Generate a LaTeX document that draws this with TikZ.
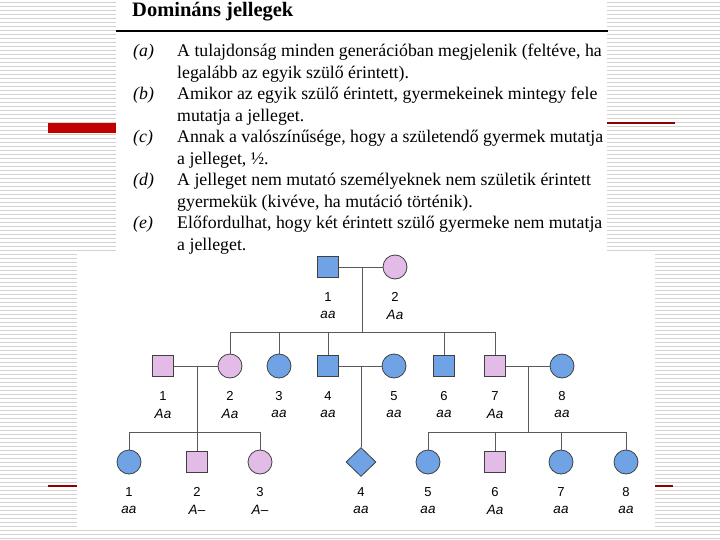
\documentclass[tikz,border=0pt]{standalone}
\usepackage{fontspec}
\setmainfont{Liberation Serif}
\newfontfamily\pedfont{Liberation Sans}
\usetikzlibrary{shapes.geometric}

\definecolor{affpink}{HTML}{E2BCE6}
\definecolor{unblue}{HTML}{6FA3E6}
\definecolor{slidered}{HTML}{C00000}
\definecolor{stripe}{HTML}{D2D2D2}

\tikzset{
  male/.style={draw=black!75,line width=.8pt,minimum size=21pt,inner sep=0pt},
  female/.style={circle,draw=black!75,line width=.8pt,minimum size=24pt,inner sep=0pt},
  sexunknown/.style={diamond,draw=black!75,line width=.8pt,minimum width=30pt,minimum height=29pt,inner sep=0pt},
  aff/.style={fill=affpink},
  unaff/.style={fill=unblue},
  link/.style={draw=black!65,line width=1pt},
  pnum/.style={font=\pedfont\fontsize{13}{13}\selectfont,inner sep=0pt},
  pgeno/.style={font=\pedfont\itshape\fontsize{13.5}{13.5}\selectfont,inner sep=0pt},
  itemline/.style={anchor=base west,inner sep=0pt,font=\fontsize{17.8}{18}\selectfont},
  itemlabel/.style={itemline,font=\itshape\fontsize{17.8}{18}\selectfont},
}

% name, style, x, y, number, genotype
\newcommand\person[6]{%
  \node[#2] (#1) at (#3,#4) {};
  \node[pnum] (#1n) at (#3,#4+30) {#5};
  \node[pgeno] (#1g) at (#3,#4+48) {#6};
}

\begin{document}
\begin{tikzpicture}[x=1pt,y=-1pt]
\useasboundingbox (0,0) rectangle (720,540);
% slide background
\foreach \k in {0,...,134}
  \draw[stripe,line width=.8pt] (0,4*\k+2) -- (720,4*\k+2);
\fill[slidered] (48,123) rectangle (116,133);
\draw[slidered!75!black,line width=1.2pt] (607,123) -- (675,123);
\draw[slidered!75!black,line width=1.2pt] (48,486) -- (77,486);
\draw[slidered!75!black,line width=1.2pt] (655,486) -- (673,486);
\fill[white] (116,0) rectangle (607,251);
\fill[white] (77,253) rectangle (655,530);

% text part
\node[anchor=base west,inner sep=0pt,font=\bfseries\fontsize{20.5}{20.5}\selectfont] (head) at (132,17) {Domináns jellegek};
\draw[line width=2pt] (116,31) -- (608,31);

\node[itemlabel] (la) at (133,57) {(a)};
\node[itemline] (ta1) at (177,57) {A tulajdonság minden generációban megjelenik (feltéve, ha};
\node[itemline] (ta2) at (177,78.5) {legalább az egyik szülő érintett).};
\node[itemlabel] (lb) at (133,100) {(b)};
\node[itemline] (tb1) at (177,100) {Amikor az egyik szülő érintett, gyermekeinek mintegy fele};
\node[itemline] (tb2) at (177,121.5) {mutatja a jelleget.};
\node[itemlabel] (lc) at (133,143) {(c)};
\node[itemline] (tc1) at (177,143) {Annak a valószínűsége, hogy a születendő gyermek mutatja};
\node[itemline] (tc2) at (177,164.5) {a jelleget, ½.};
\node[itemlabel] (ld) at (133,186) {(d)};
\node[itemline] (td1) at (177,186) {A jelleget nem mutató személyeknek nem születik érintett};
\node[itemline] (td2) at (177,207.5) {gyermekük (kivéve, ha mutáció történik).};
\node[itemlabel] (le) at (133,229) {(e)};
\node[itemline] (te1) at (177,229) {Előfordulhat, hogy két érintett szülő gyermeke nem mutatja};
\node[itemline] (te2) at (177,250.5) {a jelleget.};

% generation I
\person{I1}{male,unaff}{328}{267}{1}{aa}
\person{I2}{female,aff}{395}{267}{2}{Aa}
% generation II
\person{II1}{male,aff}{163}{366}{1}{Aa}
\person{II2}{female,aff}{230}{366}{2}{Aa}
\person{II3}{female,unaff}{279}{366}{3}{aa}
\person{II4}{male,unaff}{328}{366}{4}{aa}
\person{II5}{female,unaff}{394}{366}{5}{aa}
\person{II6}{male,unaff}{444}{366}{6}{aa}
\person{II7}{male,aff}{495}{366}{7}{Aa}
\person{II8}{female,unaff}{562}{366}{8}{aa}
% generation III
\person{III1}{female,unaff}{129}{462}{1}{aa}
\person{III2}{male,aff}{197}{462}{2}{A–}
\person{III3}{female,aff}{260}{462}{3}{A–}
\person{III4}{sexunknown,unaff}{361}{462}{4}{aa}
\person{III5}{female,unaff}{428}{462}{5}{aa}
\person{III6}{male,aff}{495}{462}{6}{Aa}
\person{III7}{female,unaff}{561}{462}{7}{aa}
\person{III8}{female,unaff}{626}{462}{8}{aa}

\coordinate (m1) at (362,267);
\coordinate (s1) at (362,332);
\coordinate (m2) at (197,366);
\coordinate (s2) at (197,432);
\coordinate (m3) at (361,366);
\coordinate (m4) at (528,366);
\coordinate (s4) at (528,432);

\draw[link] (I1) -- (I2);
\draw[link] (m1) -- (s1);
\draw[link] (II2 |- s1) -- (II7 |- s1);
\foreach \p in {II2,II3,II4,II6,II7}
  \draw[link] (\p |- s1) -- (\p);

\draw[link] (II1) -- (II2);
\draw[link] (m2) -- (III2);
\draw[link] (III1 |- s2) -- (III3 |- s2);
\foreach \p in {III1,III3}
  \draw[link] (\p |- s2) -- (\p);

\draw[link] (II4) -- (II5);
\draw[link] (m3) -- (III4);

\draw[link] (II7) -- (II8);
\draw[link] (m4) -- (s4);
\draw[link] (III5 |- s4) -- (III8 |- s4);
\foreach \p in {III5,III6,III7,III8}
  \draw[link] (\p |- s4) -- (\p);
\end{tikzpicture}
\end{document}
